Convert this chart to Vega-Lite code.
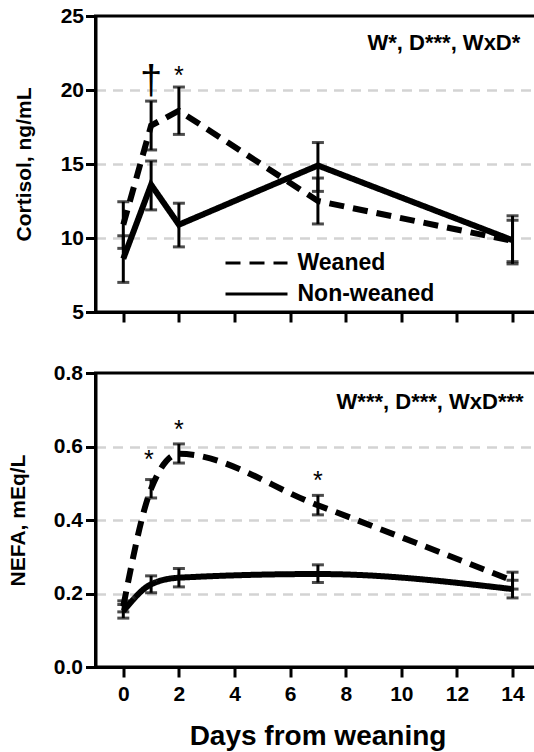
{
  "$schema": "https://vega.github.io/schema/vega-lite/v6.json",
  "padding": {"left": 5.5, "top": 3, "right": 0, "bottom": 0},
  "background": "white",
  "config": {
    "font": "Liberation Sans",
    "view": {"stroke": "black", "strokeWidth": 3},
    "axis": {
      "domainColor": "black", "domainWidth": 3,
      "tickColor": "black", "tickWidth": 3, "tickSize": 10,
      "labelFont": "Liberation Sans", "labelFontSize": 21, "labelFontWeight": "bold", "labelColor": "black",
      "titleFont": "Liberation Sans", "titleFontSize": 21, "titleFontWeight": "bold", "titleColor": "black",
      "gridColor": "#d3d3d3", "gridWidth": 2.5, "gridDash": [10, 7]
    }
  },
  "datasets": {
    "cortisol": [
      {"group": "Weaned", "day": 0, "mean": 10.9, "lo": 9.3, "hi": 12.45},
      {"group": "Weaned", "day": 1, "mean": 17.6, "lo": 15.95, "hi": 19.25},
      {"group": "Weaned", "day": 2, "mean": 18.6, "lo": 17.0, "hi": 20.2},
      {"group": "Weaned", "day": 7, "mean": 12.5, "lo": 10.95, "hi": 14.05},
      {"group": "Weaned", "day": 14, "mean": 9.8, "lo": 8.4, "hi": 11.2},
      {"group": "Non-weaned", "day": 0, "mean": 8.6, "lo": 7.0, "hi": 10.15},
      {"group": "Non-weaned", "day": 1, "mean": 13.6, "lo": 11.9, "hi": 15.2},
      {"group": "Non-weaned", "day": 2, "mean": 10.9, "lo": 9.4, "hi": 12.35},
      {"group": "Non-weaned", "day": 7, "mean": 14.9, "lo": 13.15, "hi": 16.45},
      {"group": "Non-weaned", "day": 14, "mean": 9.85, "lo": 8.25, "hi": 11.5}
    ],
    "nefa": [
      {"group": "Weaned", "day": 0, "mean": 0.165, "lo": 0.15, "hi": 0.18},
      {"group": "Weaned", "day": 1, "mean": 0.485, "lo": 0.46, "hi": 0.51},
      {"group": "Weaned", "day": 2, "mean": 0.58, "lo": 0.555, "hi": 0.607},
      {"group": "Weaned", "day": 7, "mean": 0.44, "lo": 0.414, "hi": 0.467},
      {"group": "Weaned", "day": 14, "mean": 0.235, "lo": 0.212, "hi": 0.258},
      {"group": "Non-weaned", "day": 0, "mean": 0.152, "lo": 0.133, "hi": 0.17},
      {"group": "Non-weaned", "day": 1, "mean": 0.225, "lo": 0.202, "hi": 0.248},
      {"group": "Non-weaned", "day": 2, "mean": 0.243, "lo": 0.218, "hi": 0.268},
      {"group": "Non-weaned", "day": 7, "mean": 0.253, "lo": 0.23, "hi": 0.278},
      {"group": "Non-weaned", "day": 14, "mean": 0.212, "lo": 0.188, "hi": 0.236}
    ],
    "cortisolDagger": [{"day": 1, "pos": 20.7, "label": "†"}],
    "cortisolStars": [{"day": 2, "pos": 21.2, "label": "*"}],
    "nefaStars": [
      {"day": 0.92, "pos": 0.577, "label": "*"},
      {"day": 2, "pos": 0.658, "label": "*"},
      {"day": 7, "pos": 0.52, "label": "*"}
    ],
    "cortisolNote": [{"day": 14.28, "pos": 23.2, "label": "W*, D***, WxD*"}],
    "nefaNote": [{"day": 14.4, "pos": 0.721, "label": "W***, D***, WxD***"}]
  },
  "bounds": "flush",
  "spacing": 61,
  "vconcat": [
    {
      "width": 444,
      "height": 296,
      "data": {"name": "cortisol"},
      "layer": [
        {
          "mark": {"type": "rule", "strokeWidth": 3, "color": "black"},
          "encoding": {
            "x": {"field": "day", "type": "quantitative", "scale": {"domain": [-1, 14.97], "nice": false, "zero": false},
                  "axis": {"values": [0, 2, 4, 6, 8, 10, 12, 14], "labels": false, "title": null, "grid": false}},
            "y": {"field": "lo", "type": "quantitative", "title": "Cortisol, ng/mL",
                  "scale": {"domain": [5, 25], "nice": false, "zero": false},
                  "axis": {"values": [5, 10, 15, 20, 25], "labelPadding": 2, "titlePadding": 25.5,
                           "gridOpacity": {"condition": {"test": "datum.value === 5 || datum.value === 25", "value": 0}, "value": 1}}},
            "y2": {"field": "hi"}
          }
        },
        {
          "mark": {"type": "tick", "orient": "horizontal", "size": 12, "thickness": 3, "color": "black"},
          "encoding": {
            "x": {"field": "day", "type": "quantitative"},
            "y": {"field": "lo", "type": "quantitative", "title": "Cortisol, ng/mL"}
          }
        },
        {
          "mark": {"type": "tick", "orient": "horizontal", "size": 12, "thickness": 3, "color": "black"},
          "encoding": {
            "x": {"field": "day", "type": "quantitative"},
            "y": {"field": "hi", "type": "quantitative", "title": "Cortisol, ng/mL"}
          }
        },
        {
          "mark": {"type": "line", "strokeWidth": 6, "color": "black"},
          "encoding": {
            "x": {"field": "day", "type": "quantitative"},
            "y": {"field": "mean", "type": "quantitative", "title": "Cortisol, ng/mL"},
            "strokeDash": {"field": "group", "type": "nominal",
              "scale": {"domain": ["Weaned", "Non-weaned"], "range": [[15, 9], [1, 0]]},
              "legend": {"orient": "none", "legendX": 149.5, "legendY": 235.5, "title": null,
                "symbolType": "M-3.1,0H3.1", "symbolStrokeWidth": 3, "symbolSize": 400, "symbolStrokeColor": "black",
                "labelFont": "Liberation Sans", "labelFontSize": 23, "labelFontWeight": "bold", "labelColor": "black",
                "labelOffset": 29.5, "rowPadding": 7, "padding": 0,
                "encode": {"symbols": {"update": {
                  "strokeDash": [
                    {"test": "datum.value === 'Weaned'", "value": [8, 6]},
                    {"value": [1, 0]}
                  ]}}}}}
          }
        },
        {
          "data": {"name": "cortisolDagger"},
          "mark": {"type": "text", "fontSize": 40, "color": "black", "baseline": "middle", "dy": 2},
          "encoding": {
            "x": {"field": "day", "type": "quantitative"},
            "y": {"field": "pos", "type": "quantitative", "title": "Cortisol, ng/mL"},
            "text": {"field": "label"}
          }
        },
        {
          "data": {"name": "cortisolStars"},
          "mark": {"type": "text", "fontSize": 25, "color": "black", "baseline": "middle", "dy": 4},
          "encoding": {
            "x": {"field": "day", "type": "quantitative"},
            "y": {"field": "pos", "type": "quantitative", "title": "Cortisol, ng/mL"},
            "text": {"field": "label"}
          }
        },
        {
          "data": {"name": "cortisolNote"},
          "mark": {"type": "text", "fontSize": 22, "fontWeight": "bold", "color": "black", "align": "right", "baseline": "middle"},
          "encoding": {
            "x": {"field": "day", "type": "quantitative"},
            "y": {"field": "pos", "type": "quantitative", "title": "Cortisol, ng/mL"},
            "text": {"field": "label"}
          }
        }
      ]
    },
    {
      "width": 444,
      "height": 294,
      "data": {"name": "nefa"},
      "layer": [
        {
          "mark": {"type": "rule", "strokeWidth": 3, "color": "black"},
          "encoding": {
            "x": {"field": "day", "type": "quantitative", "scale": {"domain": [-1, 14.97], "nice": false, "zero": false},
                  "title": "Days from weaning",
                  "axis": {"values": [0, 2, 4, 6, 8, 10, 12, 14], "labelPadding": 6, "titlePadding": 18,
                           "titleFontSize": 28, "grid": false}},
            "y": {"field": "lo", "type": "quantitative", "title": "NEFA, mEq/L",
                  "scale": {"domain": [0, 0.8], "nice": false},
                  "axis": {"values": [0, 0.2, 0.4, 0.6, 0.8], "format": ".1f", "labelPadding": 3, "titlePadding": 24.5,
                           "gridOpacity": {"condition": {"test": "datum.value < 0.01 || datum.value > 0.79", "value": 0}, "value": 1}}},
            "y2": {"field": "hi"}
          }
        },
        {
          "mark": {"type": "tick", "orient": "horizontal", "size": 12, "thickness": 3, "color": "black"},
          "encoding": {
            "x": {"field": "day", "type": "quantitative"},
            "y": {"field": "lo", "type": "quantitative", "title": "NEFA, mEq/L"}
          }
        },
        {
          "mark": {"type": "tick", "orient": "horizontal", "size": 12, "thickness": 3, "color": "black"},
          "encoding": {
            "x": {"field": "day", "type": "quantitative"},
            "y": {"field": "hi", "type": "quantitative", "title": "NEFA, mEq/L"}
          }
        },
        {
          "mark": {"type": "line", "strokeWidth": 6, "color": "black", "interpolate": "monotone"},
          "encoding": {
            "x": {"field": "day", "type": "quantitative"},
            "y": {"field": "mean", "type": "quantitative", "title": "NEFA, mEq/L"},
            "strokeDash": {"field": "group", "type": "nominal",
              "scale": {"domain": ["Weaned", "Non-weaned"], "range": [[15, 9], [1, 0]]},
              "legend": null}
          }
        },
        {
          "data": {"name": "nefaStars"},
          "mark": {"type": "text", "fontSize": 25, "color": "black", "baseline": "middle", "dy": 5},
          "encoding": {
            "x": {"field": "day", "type": "quantitative"},
            "y": {"field": "pos", "type": "quantitative", "title": "NEFA, mEq/L"},
            "text": {"field": "label"}
          }
        },
        {
          "data": {"name": "nefaNote"},
          "mark": {"type": "text", "fontSize": 22, "fontWeight": "bold", "color": "black", "align": "right", "baseline": "middle"},
          "encoding": {
            "x": {"field": "day", "type": "quantitative"},
            "y": {"field": "pos", "type": "quantitative", "title": "NEFA, mEq/L"},
            "text": {"field": "label"}
          }
        }
      ]
    }
  ],
  "resolve": {"scale": {"strokeDash": "independent"}}
}
